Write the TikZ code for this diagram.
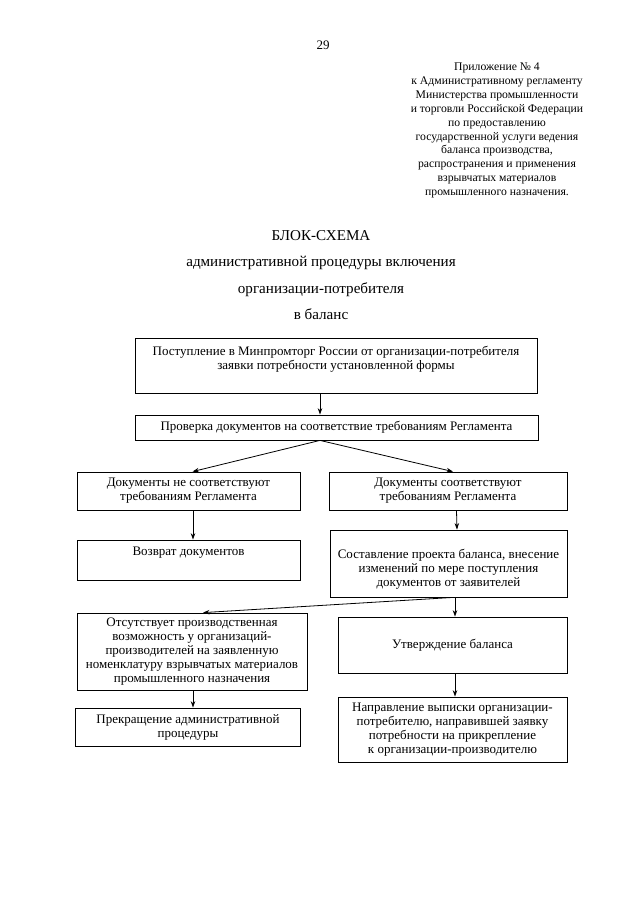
\documentclass[tikz,border=0pt]{standalone}
\usepackage{fontspec}
\setmainfont{Liberation Serif}
\usetikzlibrary{arrows.meta,calc}
\tikzset{
  box/.style={draw=black, line width=0.8pt, rectangle, inner sep=2pt, align=center,
    font=\fontsize{13}{14}\selectfont},
  arr/.style={line width=0.8pt, -{Stealth[length=6.5pt,width=4.5pt]}},
}
\begin{document}
\begin{tikzpicture}[x=1pt,y=-1pt]
\useasboundingbox[fill=white] (0,0) rectangle (640,905);
\coordinate (axis) at (320,0);
\node[font=\fontsize{13}{14}\selectfont] (pnum) at (323,45) {29};
\node[align=center, font=\fontsize{11.7}{13.9}\selectfont] (hdr) at (497,130.5)
 {Приложение № 4\\к Административному регламенту\\Министерства промышленности\\и торговли Российской Федерации\\по предоставлению\\государственной услуги ведения\\баланса производства,\\распространения и применения\\взрывчатых материалов\\промышленного назначения.};
\node[align=center, font=\fontsize{15.1}{26.3}\selectfont] (ttl) at (321,275)
 {БЛОК-СХЕМА\\административной процедуры включения\\организации-потребителя\\в баланс};

\node[box, minimum width=402pt, minimum height=55pt, text depth=15pt] (b1) at (336,365.5)
 {Поступление в Минпромторг России от организации-потребителя\\заявки потребности установленной формы};
\node[box, minimum width=403pt, minimum height=25pt] (b2) at (336.5,427.5)
 {Проверка документов на соответствие требованиям Регламента};
\node[box, minimum width=223pt, minimum height=38pt] (b3) at (188.5,491)
 {Документы не соответствуют\\требованиям Регламента};
\node[box, minimum width=238pt, minimum height=38pt] (b4) at (448,491)
 {Документы соответствуют\\требованиям Регламента};
\node[box, minimum width=223pt, minimum height=40pt, text depth=18pt] (b5) at (188.5,560)
 {Возврат документов};
\node[box, minimum width=237pt, minimum height=67pt] (b6) at (448.5,563.5)
 {\rule{0pt}{21pt}Составление проекта баланса, внесение\\изменений по мере поступления\\документов от заявителей};
\node[box, minimum width=230pt, minimum height=77pt] (b7) at (192,651.5)
 {Отсутствует производственная\\возможность у организаций-\\производителей на заявленную\\номенклатуру взрывчатых материалов\\промышленного назначения};
\node[box, minimum width=229pt, minimum height=56pt] (b8) at (452.5,645)
 {Утверждение баланса};
\node[box, minimum width=225pt, minimum height=38pt] (b9) at (188,727)
 {Прекращение административной\\процедуры};
\node[box, minimum width=229pt, minimum height=65pt] (b10) at (452.5,729.5)
 {Направление выписки организации-\\потребителю, направившей заявку\\потребности на прикрепление\\к организации-производителю};

\draw[arr] (b1.south -| axis) -- (b2.north -| axis);
\draw[arr] (b2.south -| axis) -- ([xshift=4pt]b3.north);
\draw[arr] (b2.south -| axis) -- ([xshift=5pt]b4.north);
\draw[arr] ([xshift=4.5pt]b3.south) -- ([xshift=4.5pt]b5.north);
\draw[arr] ([xshift=8.5pt]b4.south) -- ([xshift=8.5pt]b6.north);
\draw[arr] ([xshift=5pt]b6.south) -- ([xshift=11pt]b7.north);
\draw[arr] ([xshift=6.5pt]b6.south) -- ([xshift=2.5pt]b8.north);
\draw[arr] ([xshift=1pt]b7.south) -- ([xshift=5pt]b9.north);
\draw[arr] ([xshift=2.5pt]b8.south) -- ([xshift=2.5pt]b10.north);
\end{tikzpicture}
\end{document}
